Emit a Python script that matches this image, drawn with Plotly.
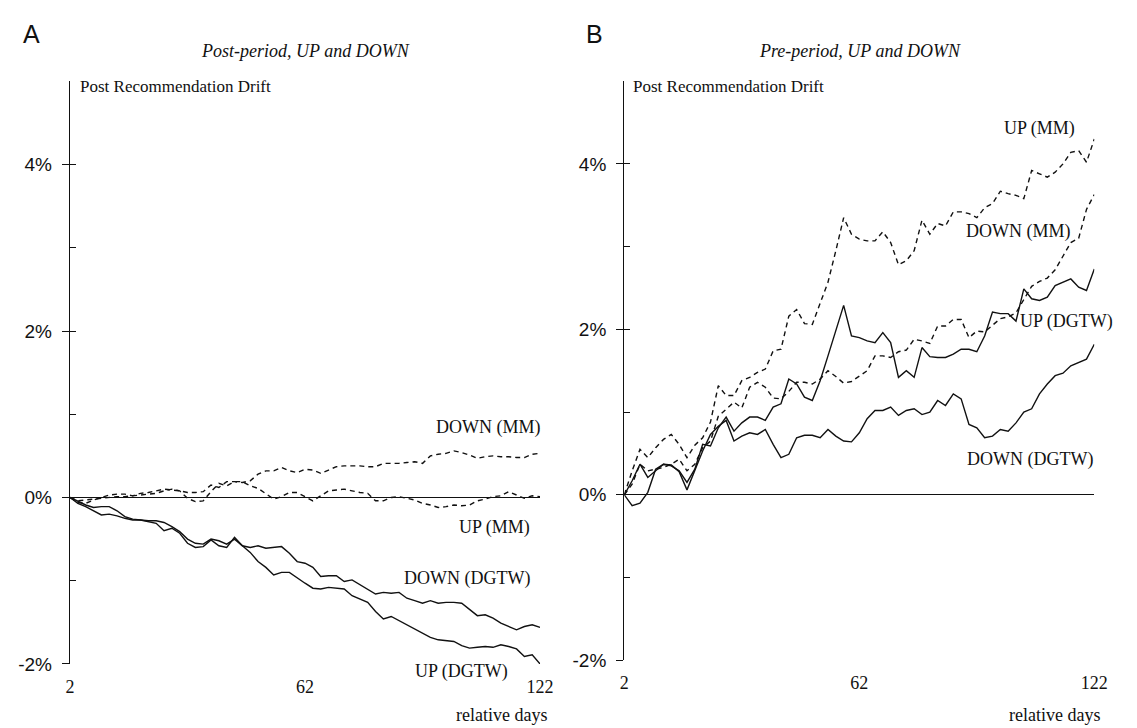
import plotly.graph_objects as go

W, H = 1137, 728
days = list(range(2, 123, 2))

# Panel A: Post-period (values in %)
a_up_dgtw = [0, -0.07, -0.11, -0.16, -0.21, -0.20, -0.22, -0.25, -0.27, -0.27,
             -0.29, -0.31, -0.40, -0.37, -0.43, -0.55, -0.60, -0.59, -0.51, -0.58,
             -0.60, -0.48, -0.58, -0.66, -0.77, -0.84, -0.93, -0.90, -0.90, -0.97,
             -1.03, -1.09, -1.10, -1.08, -1.09, -1.10, -1.18, -1.22, -1.26, -1.37,
             -1.46, -1.43, -1.48, -1.52, -1.57, -1.63, -1.68, -1.71, -1.72, -1.73,
             -1.78, -1.81, -1.80, -1.79, -1.80, -1.77, -1.79, -1.82, -1.91, -1.89,
             -2.00]
a_down_dgtw = [0, -0.05, -0.09, -0.12, -0.11, -0.11, -0.16, -0.23, -0.26, -0.27,
               -0.28, -0.28, -0.30, -0.35, -0.41, -0.50, -0.55, -0.56, -0.50, -0.52,
               -0.56, -0.50, -0.58, -0.60, -0.58, -0.61, -0.60, -0.59, -0.67, -0.77,
               -0.79, -0.84, -0.95, -0.94, -0.94, -1.01, -0.99, -1.05, -1.10, -1.16,
               -1.14, -1.15, -1.14, -1.21, -1.24, -1.27, -1.24, -1.27, -1.26, -1.26,
               -1.27, -1.35, -1.42, -1.41, -1.45, -1.51, -1.55, -1.59, -1.55, -1.53,
               -1.56]
a_down_mm = [0, -0.06, -0.07, -0.03, 0.0, 0.03, 0.04, 0.04, 0.02, 0.05,
             0.06, 0.08, 0.10, 0.09, 0.08, 0.06, 0.06, 0.07, 0.15, 0.12,
             0.19, 0.19, 0.18, 0.20, 0.28, 0.32, 0.32, 0.36, 0.32, 0.30,
             0.34, 0.33, 0.29, 0.33, 0.37, 0.38, 0.38, 0.38, 0.37, 0.37,
             0.41, 0.41, 0.41, 0.42, 0.43, 0.41, 0.50, 0.52, 0.53, 0.56,
             0.54, 0.51, 0.47, 0.49, 0.50, 0.49, 0.49, 0.48, 0.48, 0.52,
             0.53]
a_up_mm = [0, -0.04, -0.03, -0.02, -0.01, 0.0, 0.01, 0.01, 0.02, 0.03,
           0.04, 0.05, 0.08, 0.10, 0.08, -0.01, -0.05, -0.04, 0.07, 0.17,
           0.14, 0.19, 0.19, 0.14, 0.11, 0.04, -0.02, 0.01, 0.06, 0.06,
           0.01, -0.04, 0.02, 0.08, 0.09, 0.10, 0.08, 0.06, 0.05, -0.04,
           -0.04, 0.0, 0.01, -0.01, -0.03, -0.07, -0.09, -0.12, -0.11, -0.09,
           -0.10, -0.09, -0.04, -0.02, 0.01, 0.02, 0.07, 0.03, -0.01, 0.02,
           0.01]

# Panel B: Pre-period (values in %)
b_up_mm = [0, 0.29, 0.55, 0.45, 0.57, 0.67, 0.73, 0.61, 0.45, 0.60,
           0.69, 0.88, 1.32, 1.20, 1.20, 1.38, 1.42, 1.48, 1.52, 1.74,
           1.76, 2.16, 2.24, 2.07, 2.06, 2.31, 2.57, 2.95, 3.35, 3.15,
           3.09, 3.07, 3.07, 3.18, 3.05, 2.78, 2.83, 2.95, 3.32, 3.15,
           3.28, 3.25, 3.42, 3.42, 3.40, 3.35, 3.47, 3.52, 3.67, 3.64,
           3.62, 3.58, 3.92, 3.88, 3.84, 3.90, 4.00, 4.14, 4.16, 4.02,
           4.30]
b_down_mm = [0, 0.13, 0.37, 0.29, 0.31, 0.33, 0.37, 0.43, 0.29, 0.37,
             0.57, 0.65, 0.95, 1.04, 1.12, 1.05, 1.30, 1.36, 1.30, 1.17,
             1.16, 1.25, 1.36, 1.36, 1.34, 1.40, 1.50, 1.43, 1.35, 1.37,
             1.43, 1.50, 1.68, 1.68, 1.66, 1.73, 1.75, 1.88, 1.86, 1.83,
             2.04, 2.04, 2.12, 2.12, 1.90, 1.98, 1.97, 2.05, 2.13, 2.15,
             2.20, 2.36, 2.52, 2.58, 2.62, 2.72, 2.88, 3.05, 3.10, 3.45,
             3.63]
b_up_dgtw = [0, 0.17, 0.37, 0.21, 0.29, 0.37, 0.35, 0.29, 0.15, 0.31,
             0.61, 0.59, 0.81, 0.94, 0.77, 0.87, 0.94, 0.94, 0.90, 1.06,
             1.10, 1.40, 1.34, 1.18, 1.14, 1.38, 1.68, 2.00, 2.29, 1.92,
             1.90, 1.86, 1.84, 1.96, 1.84, 1.42, 1.50, 1.42, 1.78, 1.67,
             1.66, 1.66, 1.70, 1.76, 1.76, 1.73, 1.92, 2.21, 2.19, 2.19,
             2.10, 2.49, 2.37, 2.35, 2.39, 2.53, 2.57, 2.61, 2.51, 2.47,
             2.73]
b_down_dgtw = [0, -0.13, -0.10, 0.03, 0.31, 0.37, 0.36, 0.28, 0.06, 0.29,
               0.53, 0.73, 0.83, 0.90, 0.65, 0.71, 0.75, 0.73, 0.79, 0.61,
               0.45, 0.49, 0.69, 0.72, 0.72, 0.69, 0.79, 0.71, 0.65, 0.64,
               0.75, 0.92, 1.02, 1.02, 1.06, 0.96, 1.02, 1.04, 0.97, 1.00,
               1.14, 1.08, 1.22, 1.16, 0.85, 0.81, 0.69, 0.71, 0.79, 0.77,
               0.87, 1.00, 1.04, 1.22, 1.34, 1.44, 1.47, 1.56, 1.60, 1.64,
               1.82]

x_ticks = [2, 62, 122]
y_major = [-2, 0, 2, 4]
y_major_text = ["-2%", "0%", "2%", "4%"]
y_all = [-2, -1, 0, 1, 2, 3, 4, 5]

# series labels: (text, right edge px, centre y px)
a_labels = [("DOWN (MM)", 538, 426), ("UP (MM)", 528, 527),
            ("DOWN (DGTW)", 528, 579), ("UP (DGTW)", 505, 674)]
b_labels = [("UP (MM)", 1082, 122), ("DOWN (MM)", 1077, 227),
            ("UP (DGTW)", 1121, 318), ("DOWN (DGTW)", 1100, 458)]

SERIF = "Times New Roman, Liberation Serif, Tinos, serif"
SANS = "Arial, Liberation Sans, Arimo, sans-serif"
INK = "#111111"

fig = go.Figure()

def add_line(xa, ya, ys, dashed):
    fig.add_trace(go.Scatter(
        x=days, y=ys, xaxis=xa, yaxis=ya, mode="lines",
        line=dict(color=INK, width=1.4, dash="5px,4px" if dashed else "solid"),
        cliponaxis=False, hoverinfo="skip", showlegend=False))

add_line("x", "y", a_up_mm, True)
add_line("x", "y", a_down_mm, True)
add_line("x", "y", a_down_dgtw, False)
add_line("x", "y", a_up_dgtw, False)
add_line("x2", "y2", b_up_mm, True)
add_line("x2", "y2", b_down_mm, True)
add_line("x2", "y2", b_up_dgtw, False)
add_line("x2", "y2", b_down_dgtw, False)

# invisible helper traces so the inside-tick overlay axes render
for xa, ya in (("x", "y3"), ("x2", "y4")):
    fig.add_trace(go.Scatter(x=[2], y=[0], xaxis=xa, yaxis=ya, mode="markers",
                             marker=dict(size=1, opacity=0), hoverinfo="skip",
                             showlegend=False))

def px_x(p):
    return p / W

def px_y(p):
    return (H - p) / H

xa_common = dict(range=[2, 122], tickmode="array", tickvals=x_ticks,
                 ticktext=[str(v) for v in x_ticks], showline=False, ticks="",
                 showgrid=False, zeroline=False, ticklabelstandoff=10,
                 tickfont=dict(family=SERIF, size=18, color=INK))
ya_common = dict(range=[-2, 5], tickmode="array", tickvals=y_major,
                 ticktext=y_major_text, ticks="outside", ticklen=7, tickwidth=1.4,
                 tickcolor=INK, showline=True, linecolor=INK, linewidth=1.4,
                 showgrid=False, zeroline=True, zerolinecolor=INK,
                 zerolinewidth=1.4, ticklabelstandoff=6,
                 tickfont=dict(family=SANS, size=19, color=INK))
yin_common = dict(range=[-2, 5], tickmode="array", tickvals=y_all,
                  ticks="inside", ticklen=6, tickwidth=1.4, tickcolor=INK,
                  showticklabels=False, showline=False, showgrid=False,
                  zeroline=False)

fig.update_layout(
    width=W, height=H, margin=dict(l=0, r=0, t=0, b=0),
    paper_bgcolor="white", plot_bgcolor="white", showlegend=False,
    xaxis=dict(domain=[px_x(58), px_x(536)], anchor="y", **xa_common),
    yaxis=dict(domain=[px_y(666), px_y(74.5)], anchor="x", **ya_common),
    xaxis2=dict(domain=[px_x(621.7), px_x(1099.7)], anchor="y2", **xa_common),
    yaxis2=dict(domain=[px_y(662.3), px_y(74.3)], anchor="x2", **ya_common),
    yaxis3=dict(overlaying="y", anchor="x", **yin_common),
    yaxis4=dict(overlaying="y2", anchor="x2", **yin_common),
)

ann = []
def txt(text, x, y, size, family=SERIF, xanchor="left"):
    ann.append(dict(text=text, x=px_x(x), y=px_y(y), xref="paper", yref="paper",
                    xanchor=xanchor, yanchor="middle", showarrow=False,
                    font=dict(family=family, size=size, color=INK)))

txt("A", 8, 26, 25, SANS)
txt("B", 581, 26, 25, SANS)
txt("<i>Post-period, UP and DOWN</i>", 297, 44, 18, xanchor="center")
txt("<i>Pre-period, UP and DOWN</i>", 861, 44, 18, xanchor="center")
txt("Post Recommendation Drift", 66, 80, 17)
txt("Post Recommendation Drift", 629, 80, 17)
txt("relative days", 545, 718, 18, xanchor="right")
txt("relative days", 1108, 718, 18, xanchor="right")
for t, x, y in a_labels + b_labels:
    txt(t, x, y, 18, xanchor="right")

fig.update_layout(annotations=ann)
fig.write_html("out.html")
